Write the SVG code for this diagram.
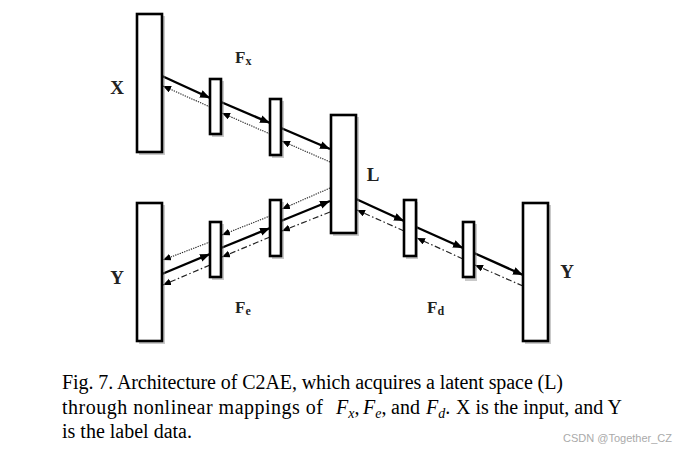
<svg xmlns="http://www.w3.org/2000/svg" width="685" height="452" viewBox="0 0 685 452">
<defs>
<marker id="ah" markerUnits="userSpaceOnUse" markerWidth="11" markerHeight="9" refX="10" refY="4" orient="auto"><path d="M0,0 L10,4 L0,8 z" fill="#000"/></marker>
<marker id="ahs" markerUnits="userSpaceOnUse" markerWidth="9" markerHeight="8" refX="8" refY="3.5" orient="auto"><path d="M0,0 L8,3.5 L0,7 z" fill="#000"/></marker>
</defs>
<style>
.box{fill:#fff;stroke:#000;stroke-width:2.6}
.sh{fill:#888;opacity:0.45}
.fw{fill:none;stroke:#000;stroke-width:2.4;marker-end:url(#ah)}
.dot{fill:none;stroke:#222;stroke-width:1.1;stroke-dasharray:1.3 1.1;marker-end:url(#ahs)}
.dd{fill:none;stroke:#222;stroke-width:1.2;stroke-dasharray:6 2.5 1.5 2.5;marker-end:url(#ahs)}
.lb{font-family:"Liberation Serif",serif;font-weight:bold;font-size:19px;fill:#222}
.fl{font-family:"Liberation Serif",serif;font-weight:bold;font-size:17px;fill:#222}
.cap{font-family:"Liberation Serif",serif;font-size:20px;fill:#000}
.it{font-style:italic}
.wm{font-family:"Liberation Sans",sans-serif;font-size:11px;fill:#aaa}
</style>
<g id="connectors">
<line class="fw" x1="162" y1="76" x2="210" y2="98"/>
<line class="fw" x1="221" y1="102" x2="270" y2="123"/>
<line class="fw" x1="281" y1="128" x2="330" y2="149"/>
<line class="dot" x1="210" y1="107" x2="163" y2="86"/>
<line class="dot" x1="270" y1="134" x2="222" y2="113"/>
<line class="dot" x1="330" y1="162" x2="282" y2="141"/>
<line class="fw" x1="162" y1="274" x2="210" y2="254"/>
<line class="fw" x1="221" y1="248" x2="270" y2="228"/>
<line class="fw" x1="281" y1="221" x2="330" y2="201"/>
<line class="dot" x1="330" y1="188" x2="282" y2="209"/>
<line class="dot" x1="270" y1="216" x2="222" y2="235"/>
<line class="dot" x1="210" y1="242" x2="163" y2="260"/>
<line class="dd" x1="330" y1="212" x2="282" y2="231"/>
<line class="dd" x1="270" y1="237" x2="222" y2="257"/>
<line class="dd" x1="210" y1="265" x2="163" y2="285"/>
<line class="fw" x1="356" y1="199" x2="404" y2="221"/>
<line class="fw" x1="416" y1="227" x2="463" y2="248"/>
<line class="fw" x1="474" y1="253" x2="523" y2="275"/>
<line class="dd" x1="404" y1="231" x2="357" y2="210"/>
<line class="dd" x1="463" y1="259" x2="417" y2="238"/>
<line class="dd" x1="523" y1="286" x2="475" y2="265"/>
</g>
<g id="X">
<rect class="sh" x="139" y="16" width="26" height="139"/>
<rect class="box" x="137" y="14" width="25" height="138"/>
<text class="lb" x="117" y="94" text-anchor="middle">X</text>
</g>
<g id="fx1"><rect class="sh" x="212" y="81" width="12" height="56"/><rect class="box" x="210" y="79" width="11" height="55"/></g>
<g id="fx2"><rect class="sh" x="272" y="101" width="12" height="57"/><rect class="box" x="270" y="99" width="11" height="56"/></g>
<g id="L">
<rect class="sh" x="333" y="117" width="26" height="119"/>
<rect class="box" x="331" y="115" width="25" height="118"/>
<text class="lb" x="373" y="181" text-anchor="middle">L</text>
</g>
<g id="Yin">
<rect class="sh" x="139" y="205" width="26" height="139"/>
<rect class="box" x="137" y="203" width="25" height="138"/>
<text class="lb" x="117" y="284" text-anchor="middle">Y</text>
</g>
<g id="fe1"><rect class="sh" x="212" y="224" width="12" height="56"/><rect class="box" x="210" y="222" width="11" height="55"/></g>
<g id="fe2"><rect class="sh" x="272" y="202" width="12" height="57"/><rect class="box" x="270" y="200" width="11" height="56"/></g>
<g id="fd1"><rect class="sh" x="406" y="202" width="12" height="57"/><rect class="box" x="404" y="200" width="12" height="56"/></g>
<g id="fd2"><rect class="sh" x="465" y="224" width="12" height="57"/><rect class="box" x="463" y="222" width="11" height="55"/></g>
<g id="Yout">
<rect class="sh" x="525" y="205" width="26" height="139"/>
<rect class="box" x="523" y="203" width="25" height="138"/>
<text class="lb" x="567" y="278" text-anchor="middle">Y</text>
</g>
<g id="labels">
<text class="fl" x="235" y="63">F<tspan font-size="12" dy="2">x</tspan></text>
<text class="fl" x="235" y="313">F<tspan font-size="12" dy="2">e</tspan></text>
<text class="fl" x="427" y="313">F<tspan font-size="12" dy="2">d</tspan></text>
</g>
<g id="caption">
<text class="cap" x="62" y="389" textLength="501" lengthAdjust="spacing">Fig. 7. Architecture of C2AE, which acquires a latent space (L)</text>
<text class="cap" y="414"><tspan x="62" textLength="261" lengthAdjust="spacing">through nonlinear mappings of</tspan><tspan x="336" class="it">F</tspan><tspan class="it" font-size="14" dy="4">x</tspan><tspan dy="-4">,</tspan><tspan x="363" class="it">F</tspan><tspan class="it" font-size="14" dy="4">e</tspan><tspan dy="-4">,</tspan><tspan x="391">and</tspan><tspan x="426" class="it">F</tspan><tspan class="it" font-size="14" dy="4">d</tspan><tspan dy="-4">.</tspan><tspan x="456">X is the input, and Y</tspan></text>
<text class="cap" x="62" y="438">is the label data.</text>
<text class="wm" x="563" y="442">CSDN @Together_CZ</text>
</g>
</svg>
